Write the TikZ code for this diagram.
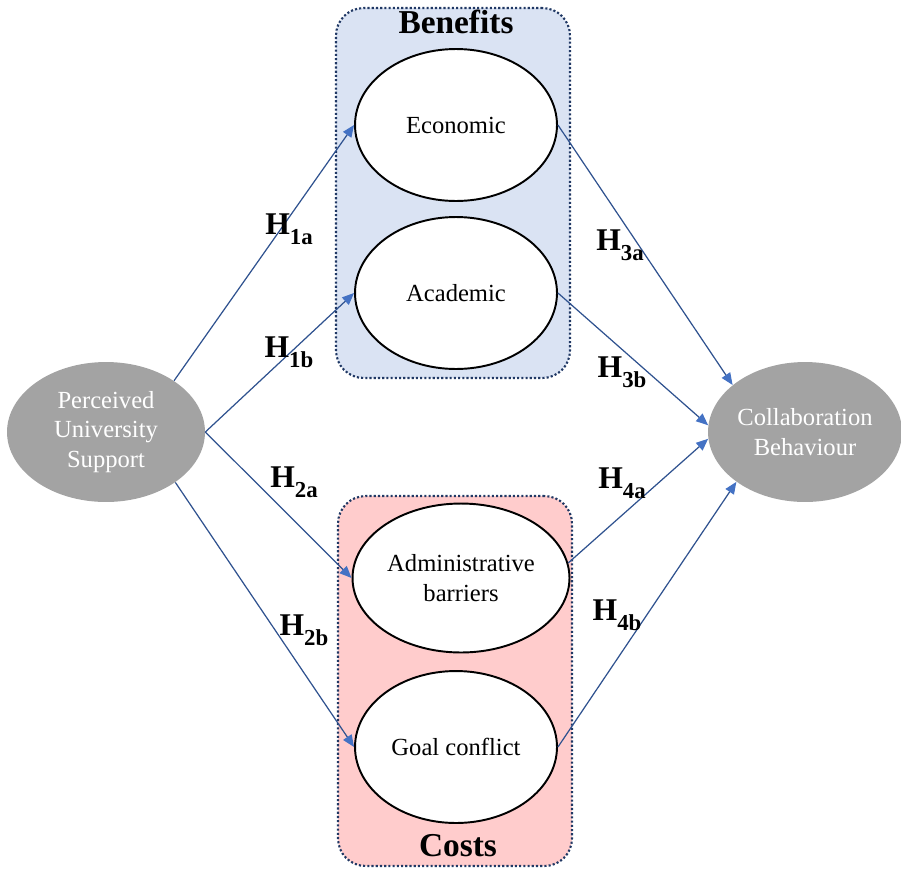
\documentclass[tikz,border=0pt]{standalone}
\usepackage{fontspec}
\setmainfont{Liberation Serif}
\usetikzlibrary{arrows.meta,shapes.geometric}
\definecolor{boxblue}{RGB}{218,227,243}
\definecolor{boxpink}{RGB}{255,204,204}
\definecolor{boxline}{RGB}{32,56,100}
\definecolor{linkblue}{RGB}{47,82,143}
\definecolor{tipblue}{RGB}{68,114,196}
\definecolor{constgray}{RGB}{163,163,163}
\newcommand{\hyp}[1]{\textbf{H\raisebox{-5.5pt}{\fontsize{13}{13}\selectfont #1}}}
\tikzset{
    groupbox/.style = {draw = boxline, line width = 1.2pt, dash pattern = on 1.2pt off 1.2pt,
        rounded corners = 0.55cm, minimum width = 4.68cm, minimum height = 7.4cm},
    factor/.style = {ellipse, draw = black, line width = 1.1pt, fill = white, inner sep = 0pt,
        minimum width = 4.04cm, minimum height = 3.04cm, align = center,
        font = \fontsize{14}{17}\selectfont},
    construct/.style = {ellipse, fill = constgray, text = white, inner sep = 0pt,
        minimum width = 3.96cm, minimum height = 2.8cm, align = center,
        font = \fontsize{14}{17}\selectfont},
    link/.style = {draw = linkblue, line width = 0.7pt,
        -{Triangle[length = 0.24cm, width = 0.2cm, color = tipblue]}},
    hlabel/.style = {font = \fontsize{18}{18}\selectfont}
}
\begin{document}
\begin{tikzpicture}[x = 0.02cm, y = -0.02cm]
        \useasboundingbox (0,0) rectangle (901,869);
        % groups
        \node[groupbox, fill = boxblue] (benefitsbox) at (453,193) {};
        \node[groupbox, fill = boxpink] (costsbox) at (455,681) {};
        \node[font = \fontsize{19}{19}\selectfont\bfseries] (benefits) at (456,22) {Benefits};
        \node[font = \fontsize{19}{19}\selectfont\bfseries] (costs) at (458,846) {Costs};
        % constructs
        \node[construct] (pus) at (106,432) {Perceived\\University\\Support};
        \node[construct, minimum width = 3.88cm] (cb) at (805,432) {Collaboration\\Behaviour};
        \node[factor] (econ) at (456,125) {Economic};
        \node[factor] (acad) at (456,293) {Academic};
        \node[factor, minimum width = 4.34cm, minimum height = 2.98cm] (admin) at (461,578) {Administrative\\barriers};
        \node[factor] (goal) at (456,747) {Goal conflict};
        % hypotheses
        \draw[link] (pus.37) -- (econ.west);
        \draw[link] (pus.east) -- (acad.west);
        \draw[link] (pus.east) -- (admin.west);
        \draw[link] (pus.-36) -- (goal.west);
        \draw[link] (econ.east) -- (cb.147);
        \draw[link] (acad.east) -- (cb.176);
        \draw[link] (admin.8) -- (cb.184);
        \draw[link] (goal.east) -- (cb.216);
        \node[hlabel] (h1a) at (289,229) {\hyp{1a}};
        \node[hlabel] (h1b) at (289,352) {\hyp{1b}};
        \node[hlabel] (h2a) at (294,482) {\hyp{2a}};
        \node[hlabel] (h2b) at (304,630) {\hyp{2b}};
        \node[hlabel] (h3a) at (620,245) {\hyp{3a}};
        \node[hlabel] (h3b) at (622,372) {\hyp{3b}};
        \node[hlabel] (h4a) at (622,483) {\hyp{4a}};
        \node[hlabel] (h4b) at (617,615) {\hyp{4b}};
    \end{tikzpicture}
\end{document}
